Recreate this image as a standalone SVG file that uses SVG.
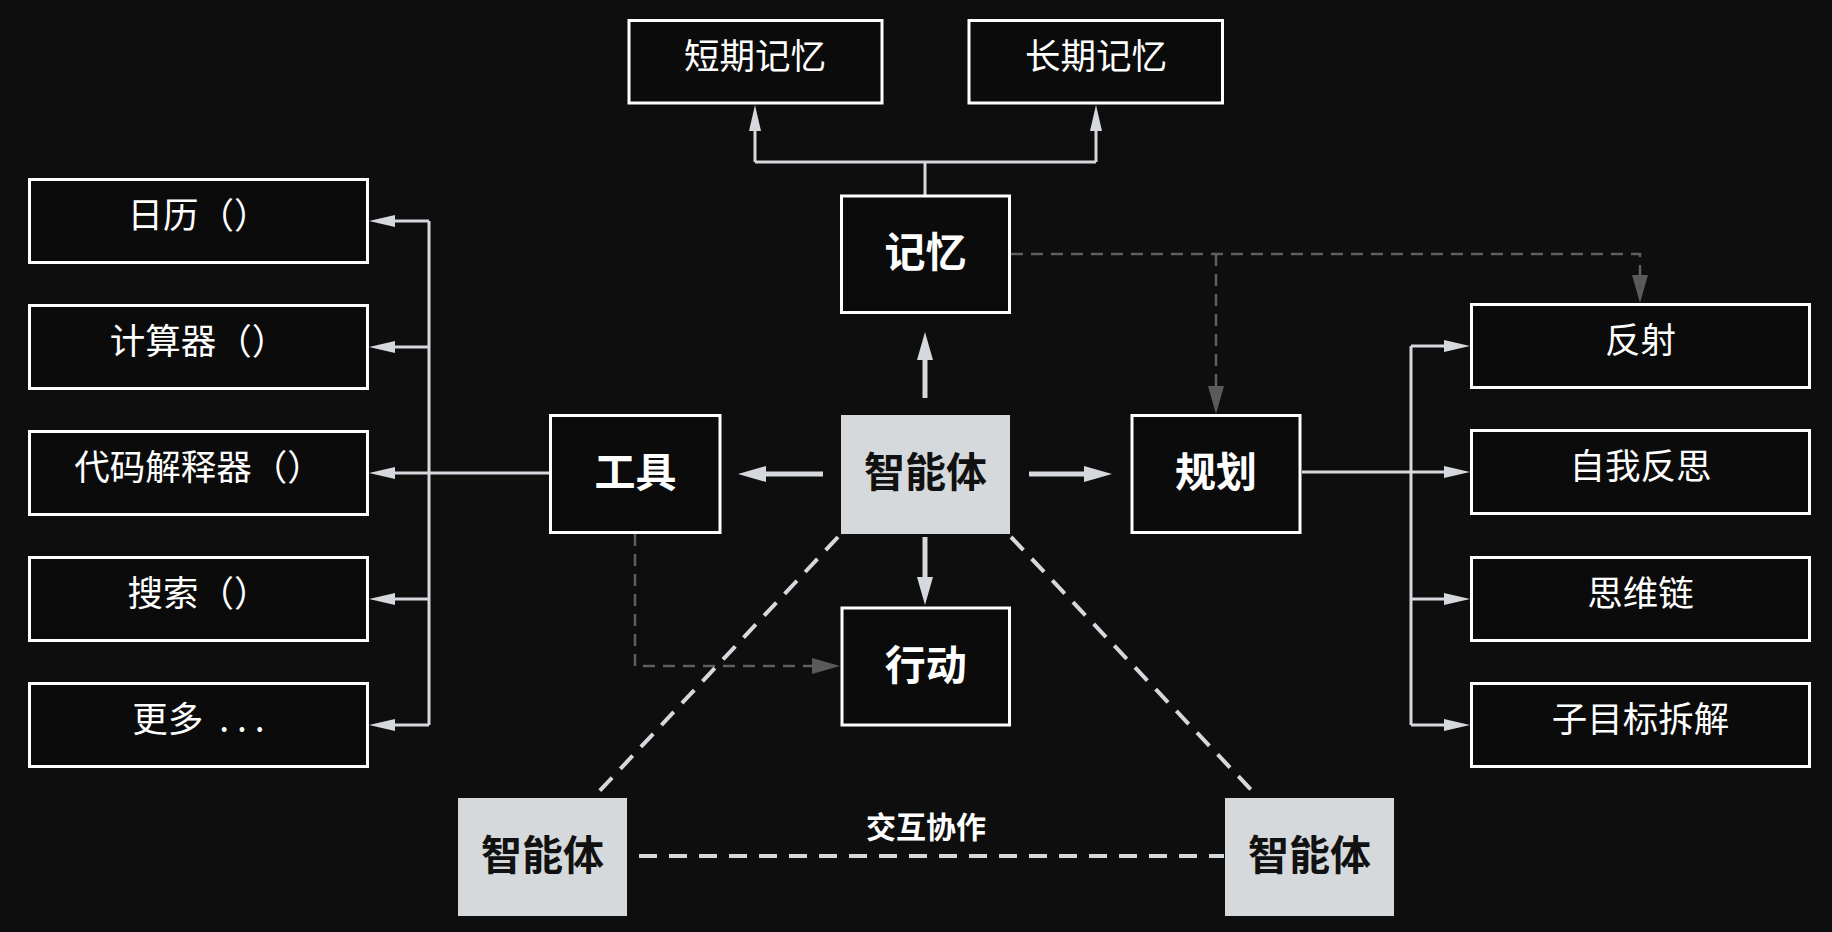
<svg xmlns="http://www.w3.org/2000/svg" width="1832" height="932" viewBox="0 0 1832 932">
<defs>
<style>
.bg{fill:#0e0e0e}
.box{fill:#0b0b0b;stroke:#ffffff;stroke-width:3}
.agent{fill:#d6d9dc}
.t{font-family:"Noto Sans CJK SC","Noto Sans",sans-serif;text-anchor:middle;fill:#ffffff}
.side{font-size:35.5px;font-weight:400}
.main{font-size:41px;font-weight:700}
.dark{fill:#111111}
.lbl{font-size:30px;font-weight:700}
.thin{fill:none;stroke:#d5d8dc;stroke-width:3}
.thick{fill:none;stroke:#d5d8dc;stroke-width:5}
.gdash{fill:none;stroke:#5e5e5e;stroke-width:2.5;stroke-dasharray:12 8}
.wdash{fill:none;stroke:#d5d8dc;stroke-width:4;stroke-dasharray:18 12}
</style>
<marker id="aThin" markerUnits="userSpaceOnUse" markerWidth="26" markerHeight="12" viewBox="0 0 26 12" refX="0" refY="6" orient="auto"><path d="M0,0 L26,6 L0,12 z" fill="#d5d8dc"/></marker>
<marker id="aThick" markerUnits="userSpaceOnUse" markerWidth="28" markerHeight="16" viewBox="0 0 28 16" refX="0" refY="8" orient="auto"><path d="M0,0 L28,8 L0,16 z" fill="#d5d8dc"/></marker>
<marker id="aGray" markerUnits="userSpaceOnUse" markerWidth="28" markerHeight="16" viewBox="0 0 28 16" refX="0" refY="8" orient="auto"><path d="M0,0 L28,8 L0,16 z" fill="#5a5a5a"/></marker>
</defs>
<rect class="bg" x="0" y="0" width="1832" height="932"/>

<g id="connectors">
  <path class="thin" d="M925,196 V162"/>
  <path class="thin" d="M755,162 H1096"/>
  <path class="thin" d="M755,162 V131" marker-end="url(#aThin)"/>
  <path class="thin" d="M1096,162 V131" marker-end="url(#aThin)"/>
  <path class="thin" d="M549,473 H429"/>
  <path class="thin" d="M429,221 V725"/>
  <path class="thin" d="M429,221 H395" marker-end="url(#aThin)"/>
  <path class="thin" d="M429,347 H395" marker-end="url(#aThin)"/>
  <path class="thin" d="M429,473 H395" marker-end="url(#aThin)"/>
  <path class="thin" d="M429,599 H395" marker-end="url(#aThin)"/>
  <path class="thin" d="M429,725 H395" marker-end="url(#aThin)"/>
  <path class="thin" d="M1302,472 H1411"/>
  <path class="thin" d="M1411,346 V725"/>
  <path class="thin" d="M1411,346 H1444" marker-end="url(#aThin)"/>
  <path class="thin" d="M1411,472 H1444" marker-end="url(#aThin)"/>
  <path class="thin" d="M1411,599 H1444" marker-end="url(#aThin)"/>
  <path class="thin" d="M1411,725 H1444" marker-end="url(#aThin)"/>
  <path class="thick" d="M823,474 H766" marker-end="url(#aThick)"/>
  <path class="thick" d="M1029,474 H1084" marker-end="url(#aThick)"/>
  <path class="thick" d="M925,398 V360" marker-end="url(#aThick)"/>
  <path class="thick" d="M925,537 V577" marker-end="url(#aThick)"/>
  <path class="gdash" d="M1011,254 H1640 V275" marker-end="url(#aGray)"/>
  <path class="gdash" d="M1216,254 V386" marker-end="url(#aGray)"/>
  <path class="gdash" d="M635,534 V666 H812" marker-end="url(#aGray)"/>
  <path class="wdash" d="M838,537 L593,798"/>
  <path class="wdash" d="M1011,537 L1259,798"/>
  <path class="wdash" d="M639,856 H1224"/>
  <text class="t lbl" x="926" y="838">交互协作</text>
</g>

<g id="n-short"><rect class="box" x="629" y="20.5" width="253" height="82.5"/><text class="t side" x="755" y="69">短期记忆</text></g>
<g id="n-long"><rect class="box" x="969" y="20.5" width="253.5" height="82.5"/><text class="t side" x="1096" y="69">长期记忆</text></g>
<g id="n-memory"><rect class="box" x="841.5" y="196" width="168" height="116.5"/><text class="t main" x="925.5" y="267">记忆</text></g>

<g id="n-calendar"><rect class="box" x="29.5" y="179.5" width="338" height="83"/><text class="t side" x="198.5" y="228">日历（）</text></g>
<g id="n-calculator"><rect class="box" x="29.5" y="305.5" width="338" height="83"/><text class="t side" x="198.5" y="354">计算器（）</text></g>
<g id="n-interpreter"><rect class="box" x="29.5" y="431.5" width="338" height="83"/><text class="t side" x="198.5" y="480">代码解释器（）</text></g>
<g id="n-search"><rect class="box" x="29.5" y="557.5" width="338" height="83"/><text class="t side" x="198.5" y="606">搜索（）</text></g>
<g id="n-more"><rect class="box" x="29.5" y="683.5" width="338" height="83"/><text class="t side" x="198.5" y="732" xml:space="preserve">更多  . . .</text></g>

<g id="n-tools"><rect class="box" x="550.5" y="415.5" width="169.5" height="117"/><text class="t main" x="635.5" y="487">工具</text></g>
<g id="n-agent"><rect class="agent" x="841" y="415" width="169" height="119"/><text class="t main dark" x="925.5" y="487">智能体</text></g>
<g id="n-plan"><rect class="box" x="1132" y="415.5" width="168" height="117"/><text class="t main" x="1216" y="487">规划</text></g>
<g id="n-action"><rect class="box" x="842" y="608" width="167.5" height="117"/><text class="t main" x="925.7" y="680">行动</text></g>

<g id="n-reflect"><rect class="box" x="1471.5" y="304.5" width="338" height="83"/><text class="t side" x="1640.5" y="353">反射</text></g>
<g id="n-selfreflect"><rect class="box" x="1471.5" y="430.5" width="338" height="83"/><text class="t side" x="1640.5" y="479">自我反思</text></g>
<g id="n-cot"><rect class="box" x="1471.5" y="557.5" width="338" height="83"/><text class="t side" x="1640.5" y="606">思维链</text></g>
<g id="n-subgoal"><rect class="box" x="1471.5" y="683.5" width="338" height="83"/><text class="t side" x="1640.5" y="732">子目标拆解</text></g>

<g id="n-agent-left"><rect class="agent" x="458" y="798" width="169" height="118"/><text class="t main dark" x="542.5" y="870">智能体</text></g>
<g id="n-agent-right"><rect class="agent" x="1225" y="798" width="169" height="118"/><text class="t main dark" x="1309.5" y="870">智能体</text></g>
</svg>
